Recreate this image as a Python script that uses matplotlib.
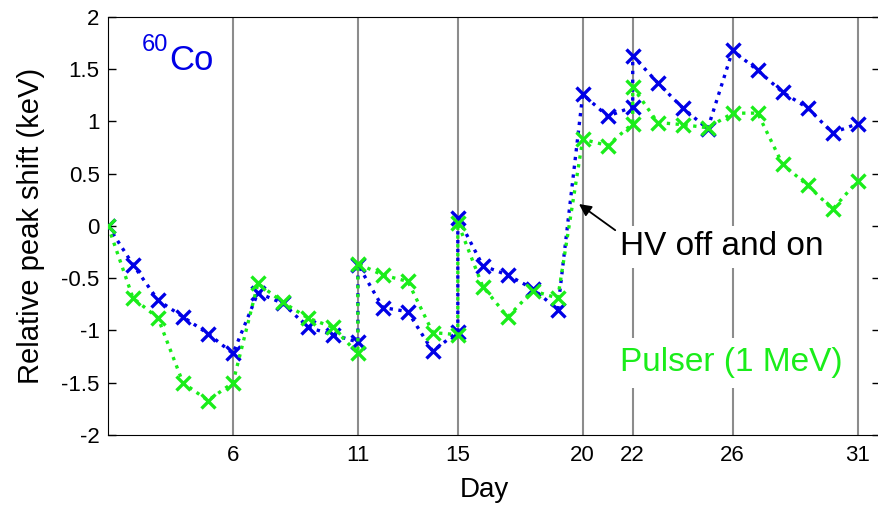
import matplotlib.pyplot as plt

plt.rcParams['font.family'] = ['Liberation Sans', 'DejaVu Sans']

# ----------------------------
# Data
# ----------------------------
days = [1, 2, 3, 4, 5, 6, 7, 8, 9, 10, 11, 11, 12, 13, 14, 15, 15, 16, 17, 18,
        19, 20, 21, 22, 22, 23, 24, 25, 26, 27, 28, 29, 30, 31]

co60 = [0, -0.37, -0.71, -0.87, -1.03, -1.22, -0.64, -0.74, -0.97, -1.04,
        -1.11, -0.37, -0.78, -0.82, -1.20, -1.01, 0.08, -0.38, -0.47, -0.60,
        -0.80, 1.26, 1.05, 1.14, 1.63, 1.37, 1.13, 0.93, 1.68, 1.49,
        1.28, 1.13, 0.89, 0.98]

pulser = [0, -0.69, -0.88, -1.50, -1.67, -1.50, -0.55, -0.73, -0.88, -0.97,
          -1.22, -0.36, -0.47, -0.53, -1.02, -1.04, 0.03, -0.58, -0.87, -0.62,
          -0.69, 0.83, 0.77, 0.98, 1.33, 0.99, 0.97, 0.94, 1.08, 1.08,
          0.59, 0.39, 0.16, 0.43]

marked_days = [6, 11, 15, 20, 22, 26, 31]
yticks = [-2, -1.5, -1, -0.5, 0, 0.5, 1, 1.5, 2]
ytick_labels = ["-2", "-1.5", "-1", "-0.5", "0", "0.5", "1", "1.5", "2"]

BLUE = (0.0, 0.0, 0.9)
GREEN = (0.1, 0.93, 0.1)

fig = plt.figure(figsize=(8.79, 5.12), dpi=100)
ax = fig.add_axes([0.1229, 0.1504, 0.8783, 0.8164])

for d in marked_days:
    ax.axvline(d, color=(0.55, 0.55, 0.55), linewidth=1.5, zorder=1)

ax.plot(days, co60, linestyle=":", color=BLUE, linewidth=2.4,
        marker="x", markersize=10, markeredgewidth=2.4, zorder=3)
ax.plot(days, pulser, linestyle=":", color=GREEN, linewidth=2.4,
        marker="x", markersize=10, markeredgewidth=2.4, zorder=4)

ax.set_xlim(1, 31.9)
ax.set_ylim(-2, 2)
ax.set_xticks(marked_days)
ax.set_yticks(yticks)
ax.set_yticklabels(ytick_labels)
ax.tick_params(axis="x", length=0, labelsize=16, pad=7)
ax.tick_params(axis="y", direction="in", length=6, width=1, labelsize=16,
               right=True, pad=6)

ax.set_xlabel("Day", fontsize=20)
ax.xaxis.set_label_coords(0.488, -0.1)
ax.set_ylabel("Relative peak shift (keV)", fontsize=21, labelpad=12)

# labels inside the plot
ax.text(2.35, 1.73, "60", color=BLUE, fontsize=17, ha="left", va="center")
ax.text(3.45, 1.58, "Co", color=BLUE, fontsize=25, ha="left", va="center")

ax.text(21.5, -0.2, "HV off and on", color="black", fontsize=24,
        ha="left", va="center", zorder=5,
        bbox=dict(facecolor="white", edgecolor="none", pad=4))
ax.text(21.5, -1.31, "Pulser (1 MeV)", color=GREEN, fontsize=24,
        ha="left", va="center", zorder=5,
        bbox=dict(facecolor="white", edgecolor="none", pad=7))

ax.annotate("", xy=(19.85, 0.21), xytext=(21.3, -0.04),
            arrowprops=dict(arrowstyle="-|>", color="black", lw=1.3,
                            mutation_scale=18, shrinkA=0, shrinkB=0),
            zorder=6)

plt.savefig("out.png", dpi=100)
